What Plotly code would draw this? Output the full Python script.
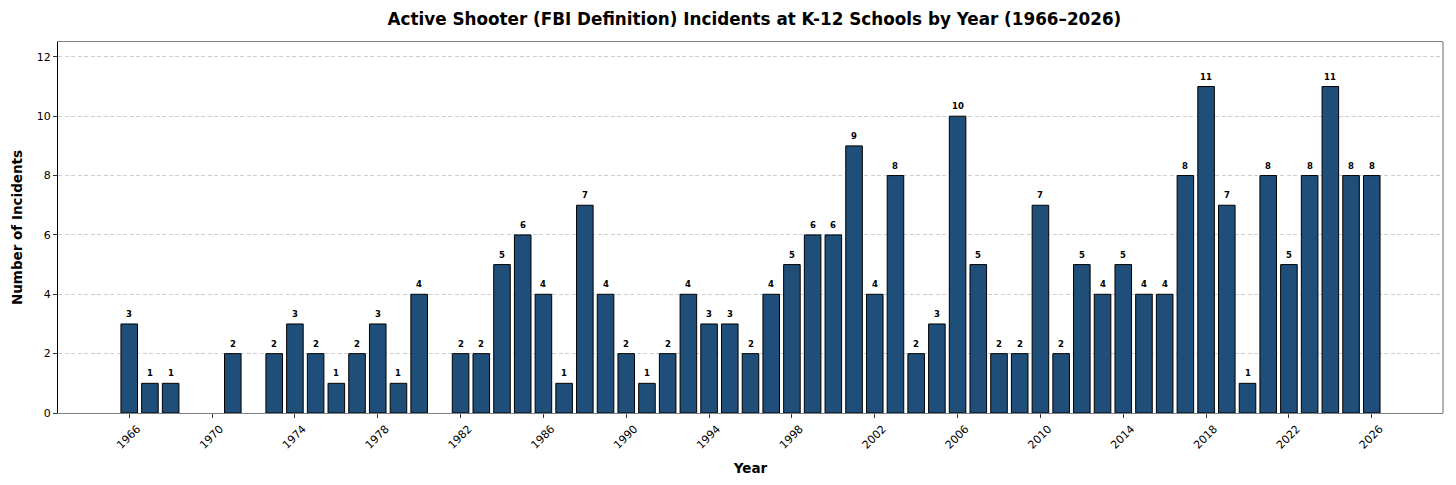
import plotly.graph_objects as go

years = list(range(1966, 2027))
incidents = [3, 1, 1, 0, 0, 2, 0, 2, 3, 2, 1, 2, 3, 1, 4, 0,
             2, 2, 5, 6, 4, 1, 7, 4, 2, 1, 2, 4, 3, 3, 2, 4,
             5, 6, 6, 9, 4, 8, 2, 3, 10, 5, 2, 2, 7, 2, 5, 4,
             5, 4, 4, 8, 11, 7, 1, 8, 5, 8, 11, 8, 8]
tick_years = list(range(1966, 2027, 4))

# zero years: no outline, no label
edge_w = [1 if v > 0 else 0 for v in incidents]

fig = go.Figure()
fig.add_trace(go.Bar(
    x=years, y=incidents, width=0.8,
    marker=dict(color="#1f4e79", line=dict(color="black", width=edge_w)),
    hoverinfo="x+y",
))

for yr, v in zip(years, incidents):
    if v > 0:
        fig.add_annotation(x=yr, y=v, text=str(v), showarrow=False,
                           yanchor="bottom", yshift=3,
                           font=dict(size=8.5, color="black", weight="bold"))

# page body has an 8px margin, so the figure is 8px smaller than the window
fig.update_layout(
    width=1448, height=477,
    margin=dict(l=50, r=13, t=34, b=72),
    paper_bgcolor="white", plot_bgcolor="white",
    font=dict(family="DejaVu Sans", size=11, color="black"),
    showlegend=False,
    title=dict(
        text="<b>Active Shooter (FBI Definition) Incidents at K-12 Schools by Year (1966–2026)</b>",
        x=0.5155, xanchor="center", y=0.977, yanchor="middle",
        font=dict(size=16.8, color="black"),
    ),
)

fig.update_xaxes(
    range=[1962.56, 2029.44], automargin=False,
    tickmode="array", tickvals=tick_years, ticktext=[str(y) for y in tick_years],
    tickangle=-45, ticklabelshift=8, ticks="outside", ticklen=4, tickcolor="#333",
    showgrid=False, zeroline=False,
    showline=True, linecolor="#808080", linewidth=1.2, mirror=True,
    title=dict(text="<b>Year</b>", font=dict(size=13.5), standoff=12),
)
fig.update_yaxes(
    range=[0, 12.5], automargin=False,
    tickvals=[0, 2, 4, 6, 8, 10, 12], ticks="outside", ticklen=4, tickcolor="#333",
    showgrid=True, gridcolor="#cfcfcf", griddash="4px,2.5px", gridwidth=0.8,
    zeroline=False, showline=True, linecolor="black", linewidth=1.2,
    title=dict(text="<b>Number of Incidents</b>", font=dict(size=13.5), standoff=10),
)

# right spine in grey like the top one
fig.add_shape(type="line", xref="paper", yref="paper", x0=1, x1=1, y0=0, y1=1,
              line=dict(color="#808080", width=1.2))

fig.write_html("out.html")
